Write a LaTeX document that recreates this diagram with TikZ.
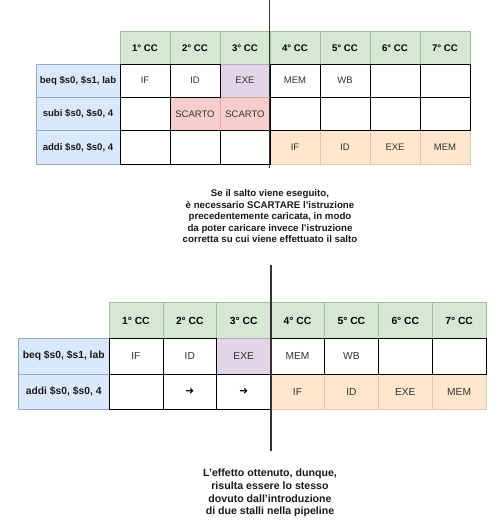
\documentclass[tikz,border=0pt]{standalone}
\usepackage{fontspec}
\setmainfont{Liberation Sans}
\newfontfamily\symfont{DejaVu Sans}
\usepackage{xcolor}
\definecolor{hdrfill}{HTML}{D5E8D4}
\definecolor{hdrline}{HTML}{A3BF9C}
\definecolor{lblfill}{HTML}{DAE8FC}
\definecolor{lblline}{HTML}{95A6BF}
\definecolor{exefill}{HTML}{E1D5E7}
\definecolor{exeline}{HTML}{B9A8C2}
\definecolor{dropfill}{HTML}{F8CECC}
\definecolor{dropline}{HTML}{D9A9A7}
\definecolor{newfill}{HTML}{FFE6CC}
\definecolor{newline}{HTML}{E3C6A4}
\definecolor{inktext}{HTML}{333333}
\definecolor{cutline}{HTML}{333333}
\tikzset{
  cell/.style = {draw = black, line width = 0.7pt, inner sep = 0pt, text = inktext},
  tabone/.style = {minimum width = 50pt, minimum height = 33.3pt, font = \fontsize{9.5}{11}\selectfont},
  tabtwo/.style = {minimum width = 53.9pt, minimum height = 35.6pt, font = \fontsize{10.2}{12}\selectfont},
  hdr/.style = {fill = hdrfill, draw = hdrline, text = black, font = \bfseries\fontsize{9.6}{11}\selectfont},
  hdrtwo/.style = {fill = hdrfill, draw = hdrline, text = black, font = \bfseries\fontsize{10.3}{12}\selectfont},
  lbl/.style = {fill = lblfill, draw = lblline, text = black!90, font = \bfseries\fontsize{9.6}{11}\selectfont},
  lbltwo/.style = {fill = lblfill, draw = lblline, text = black!90, font = \bfseries\fontsize{10.3}{12}\selectfont},
  exe/.style = {fill = exefill, draw = exeline},
  drop/.style = {fill = dropfill, draw = dropline},
  new/.style = {fill = newfill, draw = newline},
  stallarrow/.style = {text = black, font = \symfont\bfseries\fontsize{10.5}{12}\selectfont},
  cut/.style = {draw = cutline, line width = 1.6pt},
  note/.style = {align = center, text = black!90, font = \bfseries\fontsize{9.7}{11.5}\selectfont},
  notetwo/.style = {align = center, text = black!90, font = \bfseries\fontsize{10.6}{12.7}\selectfont}
}

\begin{document}
\begin{tikzpicture}[x = 1pt, y = -1pt]
        \useasboundingbox (0, 0) rectangle (501, 530);
        % first table: branch taken, fetched instruction discarded
        \node (h1) at (145, 47.9) [cell, tabone, hdr] {1° CC};
        \node (h2) at (195, 47.9) [cell, tabone, hdr] {2° CC};
        \node (h3) at (245, 47.9) [cell, tabone, hdr] {3° CC};
        \node (h4) at (295, 47.9) [cell, tabone, hdr] {4° CC};
        \node (h5) at (345, 47.9) [cell, tabone, hdr] {5° CC};
        \node (h6) at (395, 47.9) [cell, tabone, hdr] {6° CC};
        \node (h7) at (445, 47.9) [cell, tabone, hdr] {7° CC};
        \node (lb) at (78, 80.7) [cell, tabone, lbl, minimum width = 84pt] {beq \$s0, \$s1, lab};
        \node (ls) at (78, 114) [cell, tabone, lbl, minimum width = 84pt] {subi \$s0, \$s0, 4};
        \node (ld) at (78, 147.3) [cell, tabone, lbl, minimum width = 84pt] {addi \$s0, \$s0, 4};
        \node (b3) at (245, 80.7) [cell, tabone, exe] {EXE};
        \node (s2) at (195, 114) [cell, tabone, drop] {SCARTO};
        \node (s3) at (245, 114) [cell, tabone, drop] {SCARTO};
        \node (d4) at (295, 147.3) [cell, tabone, new] {IF};
        \node (d5) at (345, 147.3) [cell, tabone, new] {ID};
        \node (d6) at (395, 147.3) [cell, tabone, new] {EXE};
        \node (d7) at (445, 147.3) [cell, tabone, new] {MEM};
        \node (b1) at (145, 80.7) [cell, tabone] {IF};
        \node (b2) at (195, 80.7) [cell, tabone] {ID};
        \node (b4) at (295, 80.7) [cell, tabone] {MEM};
        \node (b5) at (345, 80.7) [cell, tabone] {WB};
        \node (b6) at (395, 80.7) [cell, tabone] {};
        \node (b7) at (445, 80.7) [cell, tabone] {};
        \node (s1) at (145, 114) [cell, tabone] {};
        \node (s4) at (295, 114) [cell, tabone] {};
        \node (s5) at (345, 114) [cell, tabone] {};
        \node (s6) at (395, 114) [cell, tabone] {};
        \node (s7) at (445, 114) [cell, tabone] {};
        \node (d1) at (145, 147.3) [cell, tabone] {};
        \node (d2) at (195, 147.3) [cell, tabone] {};
        \node (d3) at (245, 147.3) [cell, tabone] {};
        \coordinate (cuta) at (269.5, 0);
        \coordinate (cutb) at (269.5, 168);
        \draw [cut] (cuta) -- (cutb);
        \node (noteone) at (270, 216.3) [note] {Se il salto viene eseguito,\\
          è necessario SCARTARE l'istruzione\\
          precedentemente caricata, in modo\\
          da poter caricare invece l'istruzione\\
          corretta su cui viene effettuato il salto};
        % second table: same effect as two stalls
        \node (H1) at (135.9, 320.5) [cell, tabtwo, hdrtwo] {1° CC};
        \node (H2) at (189.8, 320.5) [cell, tabtwo, hdrtwo] {2° CC};
        \node (H3) at (243.7, 320.5) [cell, tabtwo, hdrtwo] {3° CC};
        \node (H4) at (297.5, 320.5) [cell, tabtwo, hdrtwo] {4° CC};
        \node (H5) at (351.4, 320.5) [cell, tabtwo, hdrtwo] {5° CC};
        \node (H6) at (405.3, 320.5) [cell, tabtwo, hdrtwo] {6° CC};
        \node (H7) at (459.1, 320.5) [cell, tabtwo, hdrtwo] {7° CC};
        \node (Lb) at (63.7, 356.1) [cell, tabtwo, lbltwo, minimum width = 90.7pt] {beq \$s0, \$s1, lab};
        \node (Ld) at (63.7, 391.7) [cell, tabtwo, lbltwo, minimum width = 90.7pt] {addi \$s0, \$s0, 4};
        \node (B3) at (243.7, 356.1) [cell, tabtwo, exe] {EXE};
        \node (D4) at (297.5, 391.7) [cell, tabtwo, new] {IF};
        \node (D5) at (351.4, 391.7) [cell, tabtwo, new] {ID};
        \node (D6) at (405.3, 391.7) [cell, tabtwo, new] {EXE};
        \node (D7) at (459.1, 391.7) [cell, tabtwo, new] {MEM};
        \node (B1) at (135.9, 356.1) [cell, tabtwo] {IF};
        \node (B2) at (189.8, 356.1) [cell, tabtwo] {ID};
        \node (B4) at (297.5, 356.1) [cell, tabtwo] {MEM};
        \node (B5) at (351.4, 356.1) [cell, tabtwo] {WB};
        \node (B6) at (405.3, 356.1) [cell, tabtwo] {};
        \node (B7) at (459.1, 356.1) [cell, tabtwo] {};
        \node (D1) at (135.9, 391.7) [cell, tabtwo] {};
        \node (D2) at (189.8, 391.7) [cell, tabtwo, stallarrow] {➜};
        \node (D3) at (243.7, 391.7) [cell, tabtwo, stallarrow] {➜};
        \coordinate (cutc) at (271, 265);
        \coordinate (cutd) at (271, 451);
        \draw [cut] (cutc) -- (cutd);
        \node (notetwo) at (270, 493) [notetwo] {L'effetto ottenuto, dunque,\\
          risulta essere lo stesso\\
          dovuto dall'introduzione\\
          di due stalli nella pipeline};
\end{tikzpicture}
\end{document}
